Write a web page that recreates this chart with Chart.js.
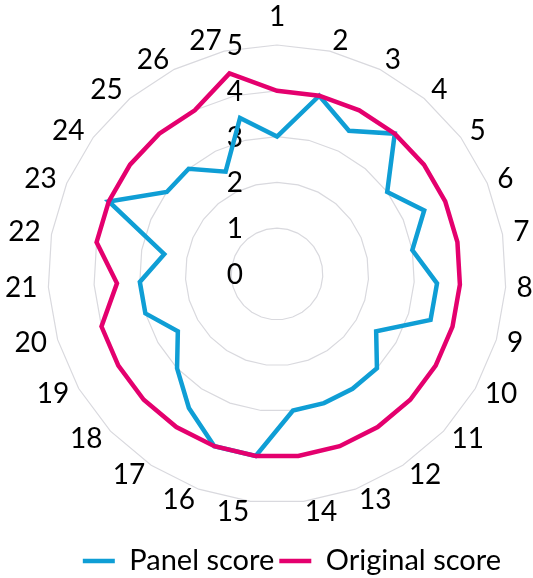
<!DOCTYPE html>
<html>
<head>
<meta charset="utf-8">
<script src="https://cdn.jsdelivr.net/npm/chart.js@4.4.1/dist/chart.umd.min.js"></script>
<style>
  html, body { margin: 0; padding: 0; background: #fff; overflow: hidden; }
  #wrap { width: 533px; height: 578px; }
</style>
</head>
<body>
<div id="wrap"><canvas id="chart" width="533" height="578"></canvas></div>
<script>
// Categories 1..27 around the rim
const categories = ['1','2','3','4','5','6','7','8','9','10','11','12','13','14','15','16','17','18','19','20','21','22','23','24','25','26','27'];

// Scores per category
const panelScores    = [3.0, 4.0, 3.5, 4.0, 3.0, 3.5, 3.0, 3.5, 3.5, 2.5, 3.0, 3.0, 3.0, 3.0, 4.0, 4.0, 3.5, 3.0, 2.5, 3.0, 3.0, 2.5, 4.0, 3.0, 3.0, 2.5, 3.5];
const originalScores = [4.0, 4.0, 4.0, 4.0, 4.0, 4.0, 4.0, 4.0, 4.0, 4.0, 4.0, 4.0, 4.0, 4.0, 4.0, 4.0, 4.0, 4.0, 4.0, 4.0, 3.5, 4.0, 4.0, 4.0, 4.0, 4.0, 4.5];

// Radial axis values
const scaleTicks = [0, 1, 2, 3, 4, 5];

const FONT = 'Lato';
const LABEL_SIZE = 28;
const LEGEND_SIZE = 29;
const BLUE = '#0F9ED5';
const PINK = '#E4006E';

// Draws the radial value labels (left of the vertical axis) and the category labels
const radarText = {
  id: 'radarText',
  beforeDatasetsDraw(chart) {
    const r = chart.scales.r;
    const ctx = chart.ctx;
    ctx.save();
    ctx.font = LABEL_SIZE + 'px ' + FONT;
    ctx.fillStyle = '#000';

    ctx.textAlign = 'right';
    ctx.textBaseline = 'middle';
    r.ticks.forEach(t => {
      const d = r.getDistanceFromCenterForValue(t.value);
      ctx.fillText(t.label, r.xCenter - 34, r.yCenter - d + 1);
    });

    const lineH = LABEL_SIZE * 1.2;
    chart.data.labels.forEach((lab, i) => {
      const p = r.getPointPosition(i, r.drawingArea + 11);
      const deg = Math.round(r.getIndexAngle(i) * 180 / Math.PI) % 360;
      let y = p.y;
      if (deg === 0) {
        ctx.textAlign = 'center';
        y -= lineH / 2;
      } else if (deg === 180) {
        ctx.textAlign = 'center';
        y += lineH / 2;
      } else if (deg < 180) {
        ctx.textAlign = 'left';
      } else {
        ctx.textAlign = 'right';
      }
      ctx.fillText(lab, p.x, y);
    });
    ctx.restore();
  }
};

new Chart(document.getElementById('chart'), {
  type: 'radar',
  data: {
    labels: categories,
    datasets: [
      {
        label: 'Panel score',
        data: panelScores,
        borderColor: BLUE,
        backgroundColor: BLUE,
        borderWidth: 4.5,
        pointRadius: 0,
        pointHoverRadius: 0,
        fill: false,
        tension: 0,
        order: 2
      },
      {
        label: 'Original score',
        data: originalScores,
        borderColor: PINK,
        backgroundColor: PINK,
        borderWidth: 4.5,
        pointRadius: 0,
        pointHoverRadius: 0,
        fill: false,
        tension: 0,
        order: 1
      }
    ]
  },
  options: {
    responsive: false,
    animation: false,
    devicePixelRatio: 1,
    layout: { padding: { left: 48, right: 27, top: 7, bottom: -7.5 } },
    font: { family: FONT },
    plugins: {
      tooltip: { enabled: false },
      legend: {
        position: 'bottom',
        align: 'end',
        labels: {
          font: { family: FONT, size: LEGEND_SIZE },
          color: '#000',
          padding: 5,
          usePointStyle: true,
          pointStyle: 'line',
          pointStyleWidth: 32,
          sort: (a, b) => a.datasetIndex - b.datasetIndex
        }
      }
    },
    scales: {
      r: {
        min: scaleTicks[0],
        max: scaleTicks[scaleTicks.length - 1],
        ticks: { stepSize: 1, display: false },
        angleLines: { display: false },
        grid: { circular: false, color: '#D9D9DE', lineWidth: 1.2 },
        pointLabels: { display: false }
      }
    }
  },
  plugins: [radarText]
});
</script>
</body>
</html>
